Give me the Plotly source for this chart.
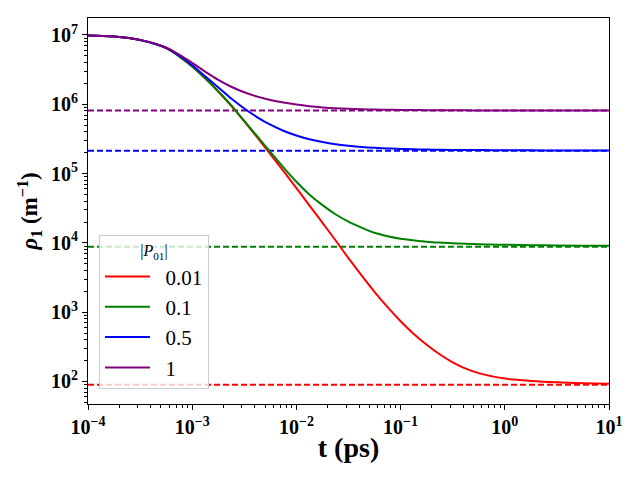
import plotly.graph_objects as go

# time (ps)
t = [1e-4, 1.78e-4, 3.16e-4, 5.62e-4, 7.5e-4, 1e-3, 1.33e-3, 1.78e-3, 2.37e-3, 3.16e-3,
     4.22e-3, 5.62e-3, 7.5e-3, 1e-2, 1.33e-2, 1.78e-2, 2.37e-2, 3.16e-2, 4.22e-2, 5.62e-2,
     7.5e-2, 0.1, 0.133, 0.178, 0.237, 0.316, 0.422, 0.562, 0.75, 1.0, 1.78, 3.16, 5.62, 10.0]

p_labels = ["0.01", "0.1", "0.5", "1"]
colors = ["#ff0000", "#008000", "#0000ff", "#800080"]

rho_001 = [9.85e6, 9.53e6, 8.47e6, 6.49e6, 4.91e6, 3.51e6, 2.37e6, 1.53e6, 9.48e5, 5.69e5,
           3.31e5, 1.91e5, 1.09e5, 6.18e4, 3.48e4, 1.95e4, 1.09e4, 6.03e3, 3.40e3, 1.97e3,
           1.18e3, 741, 490, 339, 247, 189, 153, 132, 119, 110, 102, 97.3, 94.6, 92.9]
rho_01 = [9.85e6, 9.53e6, 8.47e6, 6.49e6, 4.91e6, 3.51e6, 2.37e6, 1.53e6, 9.66e5, 5.75e5,
          3.43e5, 2.05e5, 1.23e5, 7.62e4, 5.0e4, 3.5e4, 2.59e4, 2.02e4, 1.66e4, 1.40e4,
          1.25e4, 1.15e4, 1.09e4, 1.04e4, 1.01e4, 9.89e3, 9.71e3, 9.57e3, 9.46e3, 9.38e3,
          9.27e3, 9.18e3, 9.12e3, 9.06e3]
rho_05 = [9.85e6, 9.53e6, 8.47e6, 6.5e6, 5.01e6, 3.66e6, 2.54e6, 1.75e6, 1.21e6, 8.69e5,
          6.49e5, 5.07e5, 4.15e5, 3.54e5, 3.13e5, 2.85e5, 2.65e5, 2.52e5, 2.42e5, 2.355e5,
          2.31e5, 2.27e5, 2.244e5, 2.223e5, 2.208e5, 2.198e5, 2.188e5, 2.183e5, 2.178e5, 2.173e5,
          2.165e5, 2.158e5, 2.153e5, 2.15e5]
rho_1 = [9.85e6, 9.53e6, 8.5e6, 6.6e6, 5.19e6, 3.95e6, 2.96e6, 2.25e6, 1.79e6, 1.49e6,
         1.29e6, 1.156e6, 1.06e6, 9.89e5, 9.38e5, 9.02e5, 8.77e5, 8.59e5, 8.47e5, 8.39e5,
         8.34e5, 8.30e5, 8.26e5, 8.22e5, 8.20e5, 8.18e5, 8.17e5, 8.16e5, 8.15e5, 8.14e5,
         8.13e5, 8.12e5, 8.11e5, 8.11e5]

# asymptotic values (dashed lines)
rho_inf = [90, 8.8e3, 2.14e5, 8.1e5]

x_ticks = [1e-4, 1e-3, 1e-2, 1e-1, 1e0, 1e1]
x_exps = ["−4", "−3", "−2", "−1", "0", "1"]
y_ticks = [1e2, 1e3, 1e4, 1e5, 1e6, 1e7]
y_exps = ["2", "3", "4", "5", "6", "7"]

series = [rho_001, rho_01, rho_05, rho_1]

fig = go.Figure()

# dashed asymptotes
for v, c in zip(rho_inf, colors):
    fig.add_trace(go.Scatter(x=[x_ticks[0], x_ticks[-1]], y=[v, v], mode="lines",
                             line=dict(color=c, width=2, dash="6px,3px"),
                             showlegend=False, hoverinfo="skip"))

for ys, c, lab in zip(series, colors, p_labels):
    fig.add_trace(go.Scatter(x=t, y=ys, mode="lines", name="\u00a0\u00a0" + lab,
                             line=dict(color=c, width=2, shape="spline", smoothing=1.0)))

def minor_vals(lo, hi):
    out = []
    for e in range(lo, hi):
        for m in range(2, 10):
            out.append(m * 10.0 ** e)
    return out

serif = "Liberation Serif"

fig.update_layout(
    width=640, height=480,
    margin=dict(l=88, r=31, t=18, b=76, autoexpand=False),
    paper_bgcolor="white", plot_bgcolor="white",
    font=dict(family=serif, color="black"),
    showlegend=True,
    legend=dict(
        x=0.021, y=0.04, xanchor="left", yanchor="bottom",
        bgcolor="rgba(255,255,255,0.8)", bordercolor="#cccccc", borderwidth=1,
        font=dict(family=serif, size=21, color="black"),
        title=dict(text="|<i>P</i><sub>01</sub>|", side="top center",
                   font=dict(family=serif, size=16)),
        itemwidth=45,
    ),
)

fig.update_xaxes(
    type="log", range=[-4, 1], automargin=False,
    tickvals=x_ticks,
    ticktext=["<b>10<sup>%s</sup></b>" % e for e in x_exps],
    tickfont=dict(family=serif, size=20),
    ticks="outside", ticklen=5, tickwidth=1, tickcolor="black",
    minor=dict(tickvals=minor_vals(-4, 1), ticks="outside", ticklen=3,
               tickwidth=0.8, tickcolor="black", showgrid=False),
    showline=True, linecolor="black", linewidth=1, mirror=True,
    showgrid=False, zeroline=False,
    title=dict(text="<b>t (ps)</b>", font=dict(family=serif, size=28), standoff=0),
)

fig.update_yaxes(
    type="log", range=[1.675, 7.245], automargin=False,
    tickvals=y_ticks,
    ticktext=["<b>10<sup>%s</sup></b>" % e for e in y_exps],
    tickfont=dict(family=serif, size=20),
    ticks="outside", ticklen=5, tickwidth=1, tickcolor="black",
    minor=dict(tickvals=minor_vals(1, 7), ticks="outside", ticklen=3,
               tickwidth=0.8, tickcolor="black", showgrid=False),
    showline=True, linecolor="black", linewidth=1, mirror=True,
    showgrid=False, zeroline=False,
    title=dict(text="<b><i>ρ</i><sub>1</sub> (m<sup>−1</sup>)</b>",
               font=dict(family=serif, size=23), standoff=6),
)

fig.write_html("out.html", config={"displayModeBar": False},
               post_script="document.body.style.margin='0';document.body.style.overflow='hidden';")
